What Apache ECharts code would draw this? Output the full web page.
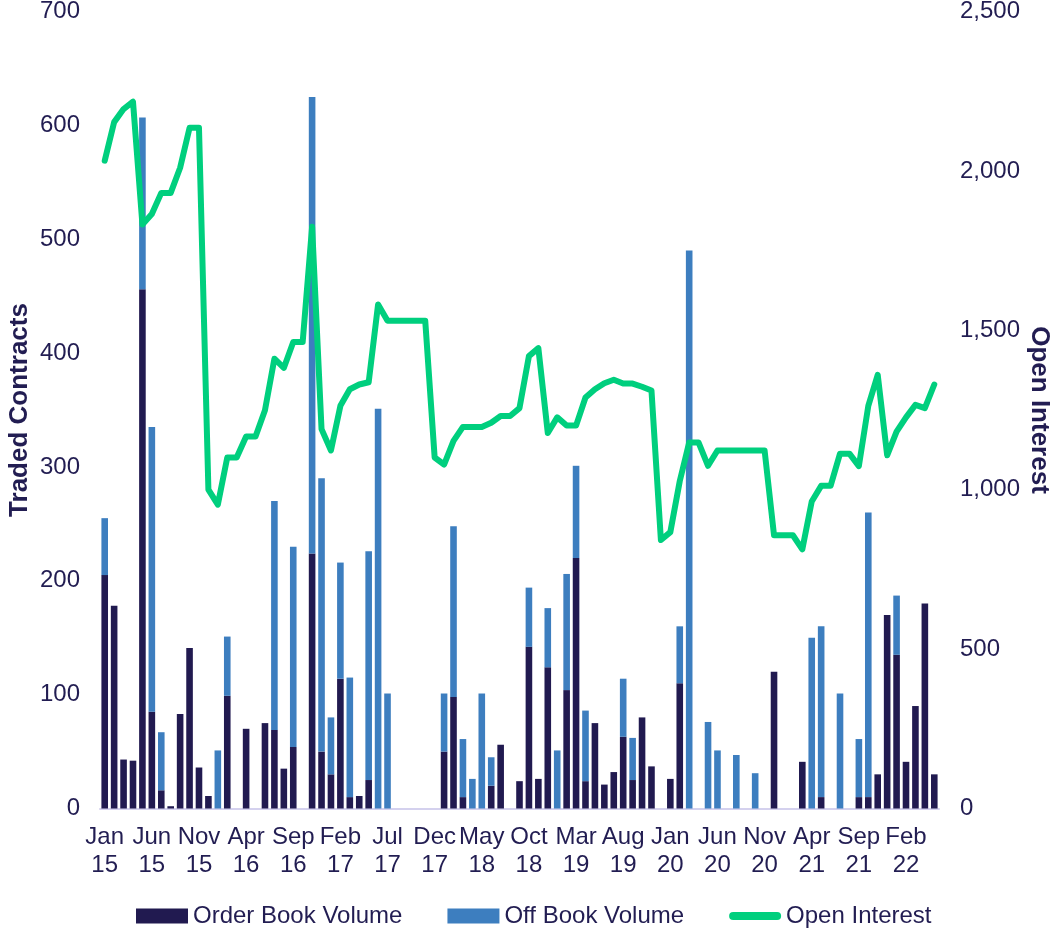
<!DOCTYPE html>
<html>
<head>
<meta charset="utf-8">
<script src="https://cdn.jsdelivr.net/npm/echarts@6/dist/echarts.min.js"></script>
<style>
html,body{margin:0;padding:0;background:#fff;}
#chart{width:1053px;height:929px;}
</style>
</head>
<body>
<div id="chart"></div>
<script>
var categories = [
'Jan 15','Feb 15','Mar 15','Apr 15','May 15','Jun 15','Jul 15','Aug 15','Sep 15','Oct 15','Nov 15','Dec 15',
'Jan 16','Feb 16','Mar 16','Apr 16','May 16','Jun 16','Jul 16','Aug 16','Sep 16','Oct 16','Nov 16','Dec 16',
'Jan 17','Feb 17','Mar 17','Apr 17','May 17','Jun 17','Jul 17','Aug 17','Sep 17','Oct 17','Nov 17','Dec 17',
'Jan 18','Feb 18','Mar 18','Apr 18','May 18','Jun 18','Jul 18','Aug 18','Sep 18','Oct 18','Nov 18','Dec 18',
'Jan 19','Feb 19','Mar 19','Apr 19','May 19','Jun 19','Jul 19','Aug 19','Sep 19','Oct 19','Nov 19','Dec 19',
'Jan 20','Feb 20','Mar 20','Apr 20','May 20','Jun 20','Jul 20','Aug 20','Sep 20','Oct 20','Nov 20','Dec 20',
'Jan 21','Feb 21','Mar 21','Apr 21','May 21','Jun 21','Jul 21','Aug 21','Sep 21','Oct 21','Nov 21','Dec 21',
'Jan 22','Feb 22','Mar 22','Apr 22','May 22'
];

var orderBookVolume = [
205,178,43,42,456,85,16,2,83,141,36,11,
0,99,0,70,0,75,69,35,54,0,224,50,
30,114,10,11,25,0,0,0,0,0,0,0,
50,98,10,0,0,20,56,0,24,142,26,124,
0,104,220,24,75,21,32,63,25,80,37,0,
26,110,0,0,0,0,0,0,0,0,0,120,
0,0,41,0,10,0,0,0,10,10,30,170,
135,41,90,180,30
];

var offBookVolume = [
50,0,0,0,151,250,51,0,0,0,0,0,
51,52,0,0,0,0,201,0,176,0,401,240,
50,102,105,0,201,351,101,0,0,0,0,0,
51,150,51,26,101,25,0,0,0,52,0,52,
51,102,81,62,0,0,0,51,37,0,0,0,
0,50,490,0,76,51,0,47,0,31,0,0,
0,0,0,150,150,0,101,0,51,250,0,0,
52,0,0,0,0
];

var openInterest = [
2032,2153,2194,2217,1832,1865,1931,1931,2010,2135,2135,1000,
953,1101,1101,1167,1167,1249,1411,1382,1463,1463,1825,1190,
1123,1263,1315,1330,1337,1581,1530,1530,1530,1530,1530,1101,
1079,1153,1197,1197,1197,1210,1231,1231,1256,1419,1444,1178,
1227,1201,1201,1289,1315,1334,1345,1333,1333,1323,1311,842,
867,1027,1148,1148,1075,1123,1123,1123,1123,1123,1123,857,
857,857,813,963,1012,1012,1113,1113,1074,1263,1360,1108,
1182,1227,1266,1256,1330
];

var leftTicks = {min: 0, max: 700, interval: 100};
var rightTicks = {min: 0, max: 2500, interval: 500};

var TEXT = '#221d52';
var DARK = '#211a50';
var BLUE = '#3d7ebf';
var GREEN = '#00cf7e';
var FONT = '"Liberation Sans", Arial, sans-serif';

function commas(v){ return String(v).replace(/\B(?=(\d{3})+(?!\d))/g, ','); }

var chart = echarts.init(document.getElementById('chart'), null, {renderer: 'canvas'});
chart.setOption({
  animation: false,
  backgroundColor: '#ffffff',
  textStyle: {fontFamily: FONT, color: TEXT},
  grid: {left: 100, right: 114, top: 11.5, bottom: 120.5, containLabel: false, outerBoundsMode: 'none'},
  legend: {
    left: 136, top: 904, padding: 0,
    itemWidth: 52, itemHeight: 15, itemGap: 45,
    textStyle: {fontSize: 24, color: TEXT, fontFamily: FONT},
    data: [
      {name: 'Order Book Volume', icon: 'rect'},
      {name: 'Off Book Volume', icon: 'rect'},
      {name: 'Open Interest', icon: 'path://M4,0 L48,0 A4,4 0 0 1 48,8 L4,8 A4,4 0 0 1 4,0 Z'}
    ]
  },
  xAxis: {
    type: 'category',
    data: categories,
    boundaryGap: true,
    axisLine: {show: true, lineStyle: {color: '#d4d1ee', width: 2}},
    axisTick: {show: false},
    splitLine: {show: false},
    axisLabel: {
      interval: 4,
      formatter: function(v){ return v.replace(' ', '\n'); },
      fontSize: 24, lineHeight: 28, color: TEXT, fontFamily: FONT, margin: 15
    }
  },
  yAxis: [
    {
      type: 'value', position: 'left',
      min: leftTicks.min, max: leftTicks.max, interval: leftTicks.interval,
      axisLine: {show: false}, axisTick: {show: false}, splitLine: {show: false},
      axisLabel: {fontSize: 24, color: TEXT, fontFamily: FONT, margin: 20},
      name: 'Traded Contracts', nameLocation: 'middle', nameRotate: 90, nameGap: 67,
      nameMoveOverlap: false,
      nameTextStyle: {fontSize: 26, fontWeight: 'bold', color: TEXT, fontFamily: FONT}
    },
    {
      type: 'value', position: 'right',
      min: rightTicks.min, max: rightTicks.max, interval: rightTicks.interval,
      axisLine: {show: false}, axisTick: {show: false}, splitLine: {show: false},
      axisLabel: {fontSize: 24, color: TEXT, fontFamily: FONT, margin: 21, formatter: commas},
      name: 'Open Interest', nameLocation: 'middle', nameRotate: -90, nameGap: 87,
      nameMoveOverlap: false,
      nameTextStyle: {fontSize: 26, fontWeight: 'bold', color: TEXT, fontFamily: FONT}
    }
  ],
  series: [
    {
      name: 'Order Book Volume', type: 'bar', stack: 'vol', yAxisIndex: 0,
      barWidth: '70%', itemStyle: {color: DARK}, data: orderBookVolume
    },
    {
      name: 'Off Book Volume', type: 'bar', stack: 'vol', yAxisIndex: 0,
      barWidth: '70%', itemStyle: {color: BLUE}, data: offBookVolume
    },
    {
      name: 'Open Interest', type: 'line', yAxisIndex: 1, z: 5,
      symbol: 'none', showSymbol: false,
      itemStyle: {color: GREEN},
      lineStyle: {color: GREEN, width: 6, cap: 'round', join: 'round'},
      data: openInterest
    }
  ]
});
</script>
</body>
</html>
